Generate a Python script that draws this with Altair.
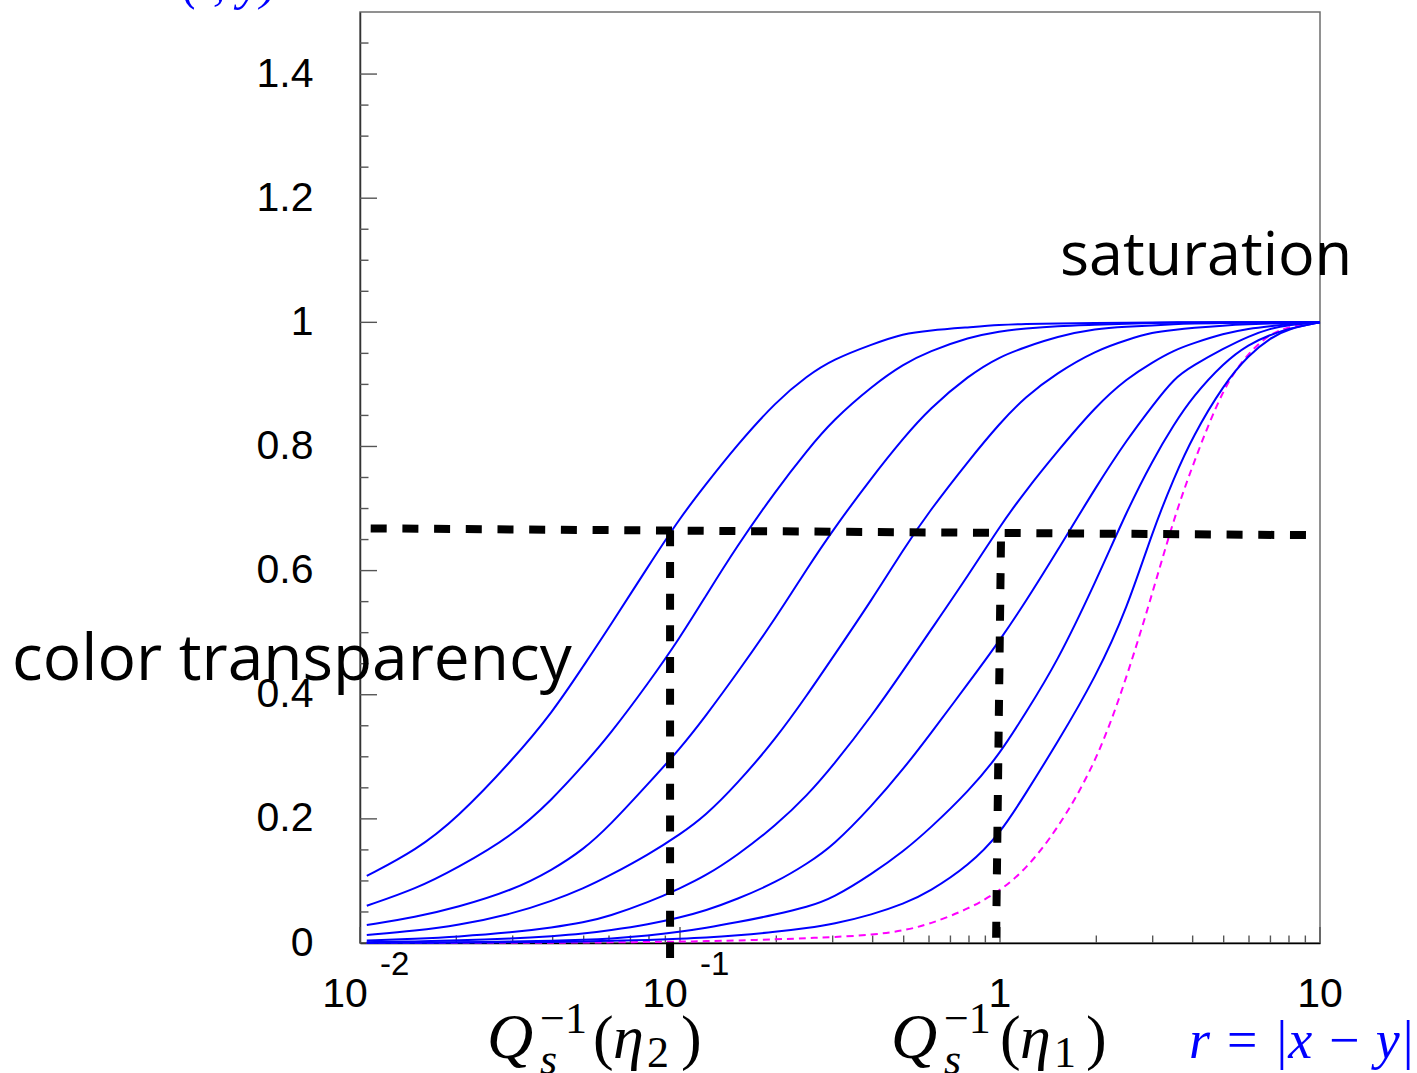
import altair as alt
import pandas as pd

# dipole sizes r at which every amplitude curve is sampled
r_grid = [0.0105, 0.015, 0.02, 0.03, 0.04, 0.05, 0.06, 0.08, 0.1, 0.12, 0.15,
          0.2, 0.25, 0.3, 0.4, 0.5, 0.6, 0.8, 1.0, 1.2, 1.5, 2.0, 2.5, 3.0,
          3.5, 4.0, 5.0, 6.0, 7.0, 8.0, 10.0]

# N(r, y) after successive steps of rapidity evolution (most evolved first)
n_step8 = [.108, .150, .200, .295, .372, .447, .508, .609, .685, .738, .801, .873, .914, .94, .965, .982,
           .987, .992, .996, .9975, .998, .999, .9995, 1, 1, 1, 1, 1, 1, 1, 1]
n_step7 = [.060, .0875, .12, .173, .232, .287, .334, .42, .492, .558, .638, .73, .794, .842, .898, .933,
           .953, .976, .986, .99, .994, .996, .998, .999, .9995, 1, 1, 1, 1, 1, 1]
n_step6 = [.029, .042, .057, .085, .118, .151, .188, .258, .313, .365, .433, .525, .604, .665, .752, .814,
           .86, .915, .945, .96, .977, .99, .993, .995, .997, .998, .999, .9995, 1, 1, 1]
n_step5 = [.013, .02, .028, .047, .068, .088, .108, .143, .175, .205, .255, .33, .40, .46, .555, .635,
           .695, .778, .838, .88, .918, .955, .972, .984, .988, .991, .995, .997, .998, .999, 1]
n_step4 = [.004, .007, .010, .017, .025, .033, .043, .066, .088, .108, .14, .19, .238, .285, .368, .44,
           .50, .594, .672, .728, .79, .866, .91, .936, .955, .966, .982, .99, .994, .997, 1]
n_step3 = [.0013, .0025, .004, .007, .011, .015, .02, .03, .041, .052, .07, .098, .128, .156, .222, .281,
           .334, .42, .488, .549, .629, .736, .812, .866, .91, .93, .958, .978, .99, .996, 1]
n_step2 = [.0005, .0008, .0012, .0022, .0035, .005, .0068, .012, .018, .024, .033, .046, .058, .072, .112, .148,
           .183, .245, .305, .37, .45, .584, .698, .778, .836, .88, .935, .965, .98, .99, 1]
n_step1 = [.0002, .0004, .0006, .0011, .0018, .0025, .0033, .005, .0068, .0085, .012, .018, .024, .03, .046, .063,
           .082, .125, .176, .24, .32, .43, .54, .664, .75, .816, .90, .948, .975, .99, 1]
# initial condition (dashed magenta)
n_initial = [0.0, .0001, .0002, .0003, .0005, .0007, .001, .0016, .0022, .003, .004, .006, .0078, .0095, .013, .02,
             .03, .055, .084, .118, .18, .29, .43, .565, .685, .77, .898, .952, .982, .993, 1]

evolved = [n_step8, n_step7, n_step6, n_step5, n_step4, n_step3, n_step2, n_step1]

# hand-drawn guide lines: saturation scale Q_s^-1 and the N ~ 2/3 level
level_r = [0.0108, 10.0]
level_n = [0.668, 0.657]
qs2_r = [0.0931, 0.0931]
qs2_n = [0.665, -0.024]
qs1_r = [1.007, 0.972]
qs1_n = [0.647, 0.0]

# axis decorations
y_label_vals = [0, 0.2, 0.4, 0.6, 0.8, 1.0, 1.2, 1.4]
y_minor_vals = [round(0.05 * i, 2) for i in range(30) if i % 4 != 0]
x_major_vals = [0.01, 0.1, 1.0, 10.0]
x_minor_vals = [k * 10.0 ** d for d in (-2, -1, 0) for k in range(2, 10)]
x_exp_r = [0.01, 0.1]
x_exp_base = ["10", "10"]
x_exp_power = ["-2", "-1"]
x_plain_r = [1.0, 10.0]
x_plain_text = ["1", "10"]

W, H = 960, 931
BLUE = "#0000ff"

xs = alt.Scale(type="log", domain=[0.01, 10])
ys = alt.Scale(domain=[0, 1.5])
x_axis = alt.Axis(labels=False, ticks=False, tickSize=0, grid=False, title=None,
                  domainColor="#000000", domainWidth=1.5)
y_axis = alt.Axis(values=y_label_vals, labelExpr="format(datum.value, '~g')",
                  labelFont="Liberation Sans", labelFontSize=41, labelColor="#000000",
                  labelPadding=47, ticks=False, tickSize=0, grid=False, title=None,
                  domainColor="#333333", domainWidth=1.5)


def X(field, **kw):
    return alt.X(field, type="quantitative", scale=xs, axis=x_axis, **kw)


def Y(field, **kw):
    return alt.Y(field, type="quantitative", scale=ys, axis=y_axis, **kw)


rows = []
for idx, ns in enumerate(evolved):
    for r, n in zip(r_grid, ns):
        rows.append({"curve": idx, "r": r, "N": n})
curves_df = pd.DataFrame(rows)
initial_df = pd.DataFrame({"r": r_grid, "N": n_initial})

blue_curves = alt.Chart(curves_df).mark_line(
    color=BLUE, strokeWidth=2, interpolate="basis"
).encode(x=X("r"), y=Y("N"), detail="curve:N")

initial_curve = alt.Chart(initial_df).mark_line(
    color="#ff00ff", strokeWidth=2, strokeDash=[7, 5], interpolate="basis"
).encode(x=X("r"), y=Y("N"))


def guide(rs, ns):
    df = pd.DataFrame({"r0": [rs[0]], "r1": [rs[1]], "n0": [ns[0]], "n1": [ns[1]]})
    return alt.Chart(df).mark_rule(
        color="black", strokeWidth=8, strokeDash=[16, 15.7], strokeCap="butt"
    ).encode(x=X("r0"), x2="r1", y=Y("n0"), y2="n1")


guides = [guide(level_r, level_n), guide(qs2_r, qs2_n), guide(qs1_r, qs1_n)]

# inward ticks in ROOT style
y_major_ticks = alt.Chart(pd.DataFrame({"v": y_label_vals})).mark_rule(
    color="#555555", strokeWidth=1.4
).encode(y=Y("v"), x=alt.value(0), x2=alt.value(17))
y_minor_ticks = alt.Chart(pd.DataFrame({"v": y_minor_vals})).mark_rule(
    color="#555555", strokeWidth=1.4
).encode(y=Y("v"), x=alt.value(0), x2=alt.value(8.5))
x_major_ticks = alt.Chart(pd.DataFrame({"v": x_major_vals})).mark_rule(
    color="#555555", strokeWidth=1.4
).encode(x=X("v"), y=alt.value(H), y2=alt.value(H - 16))
x_minor_ticks = alt.Chart(pd.DataFrame({"v": x_minor_vals})).mark_rule(
    color="#555555", strokeWidth=1.4
).encode(x=X("v"), y=alt.value(H), y2=alt.value(H - 7.5))

# x tick labels: 10 with a raised exponent, and the plain decades
exp_df = pd.DataFrame({"r": x_exp_r, "base": x_exp_base, "power": x_exp_power, "zero": [0, 0]})
plain_df = pd.DataFrame({"r": x_plain_r, "text": x_plain_text, "zero": [0, 0]})
x_base_labels = alt.Chart(exp_df).mark_text(
    font="Liberation Sans", fontSize=41, align="center", baseline="alphabetic", dx=-15, dy=64
).encode(x=X("r"), y=Y("zero"), text="base:N")
x_power_labels = alt.Chart(exp_df).mark_text(
    font="Liberation Sans", fontSize=33, align="left", baseline="alphabetic", dx=20, dy=32
).encode(x=X("r"), y=Y("zero"), text="power:N")
x_plain_labels = alt.Chart(plain_df).mark_text(
    font="Liberation Sans", fontSize=41, align="center", baseline="alphabetic", dy=64
).encode(x=X("r"), y=Y("zero"), text="text:N")


def note(text, r, n, size, font="Liberation Serif", italic=False, color="black",
         align="left", dx=0, dy=0):
    df = pd.DataFrame({"t": [text], "r": [r], "n": [n]})
    return alt.Chart(df).mark_text(
        font=font, fontSize=size, fontStyle="italic" if italic else "normal",
        color=color, align=align, baseline="alphabetic", dx=dx, dy=dy
    ).encode(x=X("r"), y=Y("n"), text="t:N")


def qs_label(r_anchor, sub, offsets):
    # Q_s^{-1}(eta_i) built from its pieces: (text, size, italic, baseline shift)
    pieces = [("Q", 64, True, 115), ("\u22121", 44, False, 90), ("s", 44, True, 131),
              ("(", 62, False, 115), ("\u03b7", 62, True, 115), (sub, 44, False, 124),
              (")", 62, False, 115)]
    return [note(txt, r_anchor, 0, size, italic=it, dx=dx, dy=dy)
            for (txt, size, it, dy), dx in zip(pieces, offsets)]


texts = []
texts += qs_label(0.0931, "2", [-183, -130, -130, -77, -57, -23, 11])
texts += qs_label(0.979, "1", [-106, -53, -53, 3, 23, 57, 89])
texts.append(note("r = |x \u2212 y|", 10.0, 0, 54, italic=True, color=BLUE, dx=-131, dy=115))
texts.append(note("N(r, y)", 0.0055, 1.521, 50, italic=True, color=BLUE, align="right"))
texts.append(note("saturation", 1.54, 1.0757, 61, font="Open Sans"))
texts.append(note("color transparency", 0.000818, 0.4235, 64, font="Open Sans"))

layers = [y_major_ticks, y_minor_ticks, x_major_ticks, x_minor_ticks,
          initial_curve, blue_curves] + guides + [x_base_labels, x_power_labels, x_plain_labels] + texts

chart = alt.layer(*layers).properties(
    width=W, height=H,
    autosize=alt.AutoSizeParams(type="none"),
    padding={"left": 360, "top": 12, "right": 97, "bottom": 130},
).configure_view(stroke="#6e6e6e", strokeWidth=1.5)

chart.save("out.html", embed_options={"renderer": "svg", "actions": False})
